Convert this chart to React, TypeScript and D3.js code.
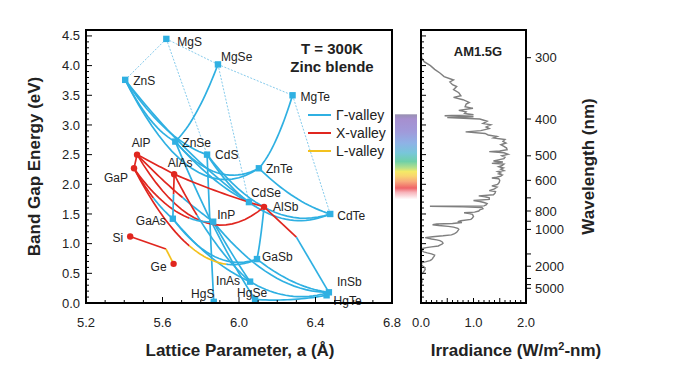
import React from 'react'
import * as d3 from 'd3'

const W = 673
const H = 392

// binary compounds: name, lattice parameter (Å), band gap (eV), lowest valley
const compounds: [string, number, number, string][] = [
  ['MgS', 5.62, 4.45, 'G'],
  ['MgSe', 5.89, 4.02, 'G'],
  ['ZnS', 5.405, 3.76, 'G'],
  ['MgTe', 6.28, 3.5, 'G'],
  ['ZnSe', 5.667, 2.72, 'G'],
  ['CdS', 5.833, 2.5, 'G'],
  ['ZnTe', 6.104, 2.27, 'G'],
  ['CdSe', 6.052, 1.7, 'G'],
  ['CdTe', 6.477, 1.5, 'G'],
  ['InP', 5.865, 1.37, 'G'],
  ['GaAs', 5.654, 1.42, 'G'],
  ['GaSb', 6.094, 0.74, 'G'],
  ['InAs', 6.058, 0.36, 'G'],
  ['InSb', 6.47, 0.18, 'G'],
  ['HgTe', 6.458, 0.13, 'G'],
  ['HgSe', 6.084, 0.06, 'G'],
  ['HgS', 5.868, 0.02, 'G'],
  ['AlP', 5.467, 2.5, 'X'],
  ['GaP', 5.451, 2.27, 'X'],
  ['AlAs', 5.661, 2.17, 'X'],
  ['AlSb', 6.131, 1.62, 'X'],
  ['Si', 5.431, 1.12, 'X'],
  ['Ge', 5.658, 0.66, 'X'],
]

// label offsets (px) and anchor per compound
const labelPos: Record<string, [number, number, string]> = {
  MgS: [11, 3, 'start'], MgSe: [3, -8, 'start'], ZnS: [8, 1, 'start'], MgTe: [8, 2, 'start'],
  ZnSe: [7, 1, 'start'], CdS: [8, 0, 'start'], ZnTe: [7, 1, 'start'], CdSe: [2, -9, 'start'],
  AlSb: [9, 0, 'start'], CdTe: [7, 2, 'start'], InP: [4, -7, 'start'], GaAs: [-7, 2, 'end'],
  AlP: [4, -12, 'middle'], AlAs: [6, -11, 'middle'], GaP: [-6, 10, 'end'], Si: [-7, 1, 'end'],
  Ge: [-7, 3, 'end'], GaSb: [5, -2, 'start'], InAs: [-10, -1, 'end'], InSb: [8, -11, 'start'],
  HgTe: [7, 6, 'start'], HgSe: [-3, -7, 'middle'], HgS: [-11, -8, 'middle'],
}

// ternary alloys: from, to, bowing (eV), valley segments [t end, valley]
const alloys: [string, string, number, [number, string][]][] = [
  ['ZnS', 'ZnSe', 0.6, [[1, 'G']]],
  ['ZnS', 'CdS', 0.8, [[1, 'G']]],
  ['ZnS', 'ZnTe', 3.0, [[1, 'G']]],
  ['ZnS', 'CdSe', 0.6, [[1, 'G']]],
  ['MgSe', 'ZnSe', 0.6, [[1, 'G']]],
  ['MgTe', 'ZnTe', 0.6, [[1, 'G']]],
  ['ZnSe', 'ZnTe', 1.2, [[1, 'G']]],
  ['ZnSe', 'CdSe', 0.4, [[1, 'G']]],
  ['CdS', 'CdSe', 0.3, [[1, 'G']]],
  ['CdS', 'CdTe', 1.7, [[1, 'G']]],
  ['ZnTe', 'CdTe', 0.4, [[1, 'G']]],
  ['CdSe', 'CdTe', 0.8, [[1, 'G']]],
  ['ZnSe', 'HgSe', 0.6, [[1, 'G']]],
  ['CdS', 'HgS', 0.3, [[1, 'G']]],
  ['GaAs', 'InAs', 0.5, [[1, 'G']]],
  ['GaAs', 'GaSb', 1.2, [[1, 'G']]],
  ['InP', 'InAs', 0.1, [[1, 'G']]],
  ['InAs', 'InSb', 0.6, [[1, 'G']]],
  ['GaSb', 'InSb', 0.4, [[1, 'G']]],
  ['AlSb', 'GaSb', 0.3, [[1, 'G']]],
  ['InP', 'InSb', 1.2, [[1, 'G']]],
  ['HgSe', 'HgTe', 0.15, [[1, 'G']]],
  ['AlP', 'GaP', 0, [[1, 'X']]],
  ['AlP', 'AlAs', 0, [[1, 'X']]],
  ['AlP', 'AlSb', 2.7, [[1, 'X']]],
  ['AlAs', 'AlSb', 0.1, [[1, 'X']]],
  ['AlP', 'InP', 0.2, [[0.6, 'X'], [1, 'G']]],
  ['GaP', 'GaAs', 0.3, [[0.5, 'X'], [1, 'G']]],
  ['GaP', 'InP', 1.0, [[0.7, 'X'], [1, 'G']]],
  ['GaP', 'GaSb', 2.5, [[0.45, 'X'], [0.75, 'L'], [1, 'G']]],
  ['AlAs', 'GaAs', 0, [[0.45, 'X'], [1, 'G']]],
  ['AlAs', 'InAs', 0.7, [[0.3, 'X'], [1, 'G']]],
]

// alloys with a sharp valley crossover: from, to, crossover a, crossover Eg, valley before, valley after
const kinked: [string, string, number, number, string, string][] = [
  ['Si', 'Ge', 5.618, 0.91, 'X', 'L'],
  ['AlSb', 'InSb', 6.3, 1.11, 'X', 'G'],
]

// Mg-containing alloys (dotted)
const dotted: [string, string][] = [
  ['MgS', 'ZnS'], ['MgS', 'MgSe'], ['MgSe', 'MgTe'],
  ['MgS', 'CdS'], ['MgSe', 'CdSe'], ['MgTe', 'CdTe'],
]

const valleyNames = ['Γ-valley', 'X-valley', 'L-valley']
const valleyKeys = ['G', 'X', 'L']
const valleyColor: Record<string, string> = { G: '#2fb0e2', X: '#e0261f', L: '#f3c11e' }

// AM1.5G spectrum: wavelength (nm), irradiance (W/m2-nm)
const wavelengths = [
  290, 300, 305, 310, 315, 320, 325, 330, 333, 337, 340, 345, 350, 355, 358, 362, 367, 370, 375, 378,
  382, 385, 388, 391, 393, 395, 397, 400, 405, 410, 413, 418, 422, 427, 430, 434, 438, 442, 446, 450,
  455, 460, 465, 470, 475, 480, 484, 486, 490, 495, 500, 505, 510, 515, 518, 522, 527, 530, 535, 540,
  545, 550, 556, 560, 566, 570, 575, 580, 585, 589, 592, 600, 610, 620, 628, 635, 645, 655, 660, 670,
  680, 687, 693, 700, 710, 718, 725, 732, 740, 750, 758, 761, 765, 770, 780, 790, 800, 810, 816, 823,
  830, 850, 865, 880, 895, 905, 915, 925, 932, 940, 950, 960, 970, 985, 1000, 1020, 1040, 1060, 1080, 1095,
  1110, 1125, 1135, 1150, 1165, 1180, 1200, 1230, 1250, 1270, 1290, 1310, 1330, 1350, 1380, 1410, 1440, 1470, 1500, 1540,
  1580, 1620, 1660, 1700, 1740, 1780, 1810, 1850, 1900, 1950, 2000, 2050, 2100, 2150, 2200, 2300, 2400, 2500, 2600, 3000,
  3500, 4000,
]
const irradiance = [
  0.0, 0.01, 0.06, 0.18, 0.26, 0.36, 0.44, 0.62, 0.55, 0.6, 0.68, 0.62, 0.72, 0.76, 0.62, 0.8, 0.92, 0.86, 0.84, 0.99,
  0.72, 0.86, 0.83, 1.0, 0.45, 1.0, 0.5, 1.12, 1.26, 1.18, 1.33, 1.24, 1.3, 1.14, 0.85, 1.22, 1.28, 1.45, 1.38, 1.6,
  1.56, 1.62, 1.52, 1.58, 1.63, 1.64, 1.5, 1.3, 1.58, 1.66, 1.54, 1.6, 1.58, 1.45, 1.38, 1.56, 1.35, 1.58, 1.55, 1.48,
  1.57, 1.52, 1.58, 1.46, 1.52, 1.48, 1.55, 1.52, 1.44, 1.35, 1.48, 1.5, 1.49, 1.46, 1.35, 1.45, 1.4, 1.3, 1.42, 1.41,
  1.38, 1.1, 1.22, 1.3, 1.3, 1.0, 1.12, 1.2, 1.26, 1.24, 1.2, 0.17, 0.8, 1.16, 1.18, 1.12, 1.1, 1.02, 0.82, 0.92,
  0.98, 1.0, 0.98, 0.95, 0.76, 0.7, 0.78, 0.6, 0.3, 0.22, 0.34, 0.52, 0.62, 0.7, 0.72, 0.7, 0.68, 0.64, 0.58, 0.42,
  0.22, 0.08, 0.12, 0.2, 0.3, 0.36, 0.4, 0.42, 0.4, 0.36, 0.33, 0.2, 0.1, 0.03, 0.01, 0.02, 0.05, 0.12, 0.2, 0.26,
  0.25, 0.23, 0.22, 0.2, 0.17, 0.1, 0.04, 0.01, 0.0, 0.02, 0.04, 0.06, 0.08, 0.07, 0.08, 0.06, 0.04, 0.02, 0.0, 0.01,
  0.02, 0.0,
]

const wlTicks = [300, 400, 500, 600, 800, 1000, 2000, 5000]
const wlMinor = [700, 900, 1500, 3000, 4000]

// visible colour strip: wavelength (nm) and colour
const stripWl = [390, 400, 430, 460, 490, 520, 545, 560, 580, 605, 640, 665, 710]
const stripColors = ['#9790b0', '#a68fcf', '#a09ada', '#8fb2e6', '#78c6da', '#6fd0a8', '#b8e08a', '#f4ea66', '#f9d570', '#f8ac7c', '#ef6468', '#f7b3ba', '#ffffff']

const FONT = "'Liberation Sans', Arial, sans-serif"

export default function App() {
  const x = d3.scaleLinear().domain([5.2, 6.8]).range([86, 392])
  const y = d3.scaleLinear().domain([0, 4.6]).range([303, 30])
  const xr = d3.scaleLinear().domain([0, 2]).range([421, 526])
  const byName: Record<string, { a: number; eg: number }> = {}
  compounds.forEach(c => { byName[c[0]] = { a: c[1], eg: c[2] } })
  const line = d3.line<number[]>().x(d => x(d[0])).y(d => y(d[1]))

  const alloyPts = (A: any, B: any, bow: number, t0: number, t1: number) =>
    d3.range(0, 21).map(i => {
      const t = t0 + (t1 - t0) * i / 20
      return [(1 - t) * A.a + t * B.a, (1 - t) * A.eg + t * B.eg - bow * t * (1 - t)]
    })

  const segs: { d: string; c: string }[] = []
  alloys.forEach(([f, t, bow, parts]) => {
    let t0 = 0
    parts.forEach(([t1, v]) => {
      segs.push({ d: line(alloyPts(byName[f], byName[t], bow, t0, t1)) || '', c: valleyColor[v] })
      t0 = t1
    })
  })
  kinked.forEach(([f, t, ka, ke, v1, v2]) => {
    segs.push({ d: line([[byName[f].a, byName[f].eg], [ka, ke]]) || '', c: valleyColor[v1] })
    segs.push({ d: line([[ka, ke], [byName[t].a, byName[t].eg]]) || '', c: valleyColor[v2] })
  })

  const spec = wavelengths.map((w, i) => [irradiance[i], 1240 / w]).filter(d => d[1] <= 4.6)
  const specLine = d3.line<number[]>().x(d => xr(d[0])).y(d => y(d[1]))

  const yMinor = d3.range(0, 46).map(i => i / 10)
  const xMinor = d3.range(0, 17).map(i => 5.2 + i / 10)
  const xMajor = [5.2, 5.6, 6.0, 6.4, 6.8]
  const yMajor = d3.range(0, 10).map(i => i * 0.5)
  const irrMinor = d3.range(0, 21).map(i => i / 10)

  const stripTop = y(1240 / stripWl[0])
  const stripBot = y(1240 / stripWl[stripWl.length - 1])

  return (
    <svg width={W} height={H} style={{ position: 'absolute', left: 0, top: 0, background: '#fff' }} fontFamily={FONT}>
      <defs>
        <clipPath id="plot"><rect x={86} y={30} width={306} height={273} /></clipPath>
        <linearGradient id="vis" gradientUnits="userSpaceOnUse" x1={0} x2={0} y1={stripTop} y2={stripBot}>
          {stripWl.map((w, i) => (
            <stop key={w} offset={(y(1240 / w) - stripTop) / (stripBot - stripTop)} stopColor={stripColors[i]} />
          ))}
        </linearGradient>
      </defs>

      {/* left panel */}
      <g clipPath="url(#plot)">
        {dotted.map(([f, t]) => (
          <line key={f + t} x1={x(byName[f].a)} y1={y(byName[f].eg)} x2={x(byName[t].a)} y2={y(byName[t].eg)}
            stroke="#86cbec" strokeWidth={1} strokeDasharray="2,1.5" />
        ))}
        {segs.map((s, i) => (
          <path key={i} d={s.d} fill="none" stroke={s.c} strokeWidth={1.7} />
        ))}
        {compounds.map(([n, a, eg, v]) =>
          v === 'G'
            ? <rect key={n} x={x(a) - 3.2} y={y(eg) - 3.2} width={6.4} height={6.4} fill="#2fb0e2" />
            : <circle key={n} cx={x(a)} cy={y(eg)} r={3.2} fill="#e0261f" />
        )}
      </g>
      {compounds.map(([n, a, eg]) => {
        const [dx, dy, anchor] = labelPos[n]
        return (
          <text key={n} x={x(a) + dx} y={y(eg) + dy} dy="0.35em" fontSize={12} fill="#222" textAnchor={anchor}>{n}</text>
        )
      })}

      {yMinor.map(v => (
        <line key={'ym' + v} x1={86} x2={86 + (Math.abs(v * 2 - Math.round(v * 2)) < 1e-6 ? 6 : 3)} y1={y(v)} y2={y(v)} stroke="#000" strokeWidth={1} />
      ))}
      {xMinor.map(v => (
        <line key={'xm' + v} x1={x(v)} x2={x(v)} y1={303} y2={303 - (xMajor.some(m => Math.abs(m - v) < 1e-6) ? 6 : 3)} stroke="#000" strokeWidth={1} />
      ))}
      <rect x={86} y={30} width={306} height={273} fill="none" stroke="#000" strokeWidth={2} />
      {yMajor.map(v => (
        <text key={'yl' + v} x={80} y={y(v)} dy="0.35em" fontSize={13} textAnchor="end" fill="#222">{d3.format('.1f')(v)}</text>
      ))}
      {xMajor.map(v => (
        <text key={'xl' + v} x={x(v)} y={327} fontSize={13} textAnchor="middle" fill="#222">{d3.format('.1f')(v)}</text>
      ))}
      <text x={240} y={356} fontSize={17} fontWeight="bold" textAnchor="middle" fill="#222">Lattice Parameter, a (Å)</text>
      <text transform={`translate(40,${y(2.3)}) rotate(-90)`} fontSize={17} fontWeight="bold" textAnchor="middle" fill="#222">Band Gap Energy (eV)</text>

      <text x={332} y={54} fontSize={15} fontWeight="bold" textAnchor="middle" fill="#222">T = 300K</text>
      <text x={332} y={72} fontSize={15} fontWeight="bold" textAnchor="middle" fill="#222">Zinc blende</text>
      {valleyNames.map((n, i) => (
        <g key={n}>
          <line x1={308} x2={331} y1={115 + i * 18} y2={115 + i * 18} stroke={valleyColor[valleyKeys[i]]} strokeWidth={2} />
          <text x={336} y={115 + i * 18} dy="0.35em" fontSize={14} fill="#222">{n}</text>
        </g>
      ))}

      {/* visible spectrum strip */}
      <rect x={395} y={stripTop} width={22} height={stripBot - stripTop} fill="url(#vis)" />

      {/* right panel */}
      <path d={specLine(spec) || ''} fill="none" stroke="#7f7f7f" strokeWidth={1.4} />
      {yMinor.map(v => (
        <line key={'rm' + v} x1={421} x2={421 + (Math.abs(v * 2 - Math.round(v * 2)) < 1e-6 ? 5 : 3)} y1={y(v)} y2={y(v)} stroke="#000" strokeWidth={1} />
      ))}
      {irrMinor.map(v => (
        <line key={'im' + v} x1={xr(v)} x2={xr(v)} y1={303} y2={303 - (Math.abs(v * 2 - Math.round(v * 2)) < 1e-6 ? 5 : 3)} stroke="#000" strokeWidth={1} />
      ))}
      {wlTicks.concat(wlMinor).map(w => (
        <line key={'wt' + w} x1={526} x2={531} y1={y(1240 / w)} y2={y(1240 / w)} stroke="#000" strokeWidth={1} />
      ))}
      <rect x={421} y={30} width={105} height={273} fill="none" stroke="#000" strokeWidth={2} />
      {wlTicks.map(w => (
        <text key={'wl' + w} x={535} y={y(1240 / w)} dy="0.35em" fontSize={13} fill="#222">{w}</text>
      ))}
      {[0, 1, 2].map(v => (
        <text key={'ir' + v} x={xr(v)} y={327} fontSize={13} textAnchor="middle" fill="#222">{d3.format('.1f')(v)}</text>
      ))}
      <text x={478} y={56} fontSize={13} fontWeight="bold" textAnchor="middle" fill="#222">AM1.5G</text>
      <text x={516} y={356} fontSize={17} fontWeight="bold" textAnchor="middle" fill="#222">
        Irradiance (W/m<tspan fontSize={11} dy={-6}>2</tspan><tspan dy={6}>-nm)</tspan>
      </text>
      <text transform={`translate(594,${y(2.3)}) rotate(-90)`} fontSize={17} fontWeight="bold" textAnchor="middle" fill="#222">Wavelength (nm)</text>
    </svg>
  )
}
